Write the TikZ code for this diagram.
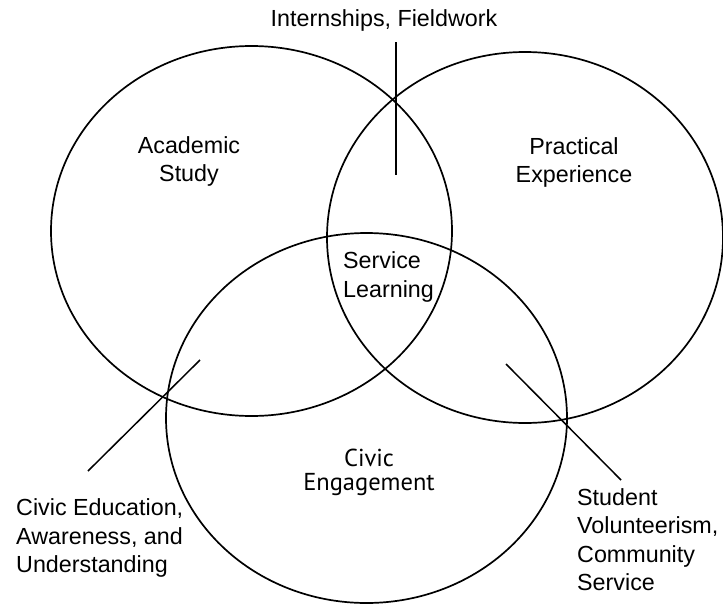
\documentclass[tikz,border=0pt]{standalone}
\usepackage{fontspec}
\usetikzlibrary{shapes.geometric}
\setmainfont{Liberation Sans}
\newfontfamily\civicfont{PT Sans}
\begin{document}
\begin{tikzpicture}[x=1pt,y=-1pt,
  ring/.style={draw=black,line width=1.7pt,ellipse,inner sep=0pt},
  leader/.style={draw=black,line width=1.5pt},
  label/.style={inner sep=0pt,font=\fontsize{23.3}{28.5}\selectfont},
  labelleft/.style={label,align=left},
  labelmid/.style={label,align=center}]
  \useasboundingbox (0,0) rectangle (723,605);

  % the three overlapping fields
  \node[ring,minimum width=401pt,minimum height=370pt] (study) at (251.5,231) {};
  \node[ring,minimum width=396pt,minimum height=371pt] (practice) at (525,237.5) {};
  \node[ring,minimum width=401pt,minimum height=370pt] (civic) at (366.5,418) {};

  % field names
  \node[labelmid] (tstudy) at (189,161.5) {Academic\\Study};
  \node[labelmid] (tpractice) at (574,162.5) {Practical\\Experience};
  \node[labelleft,anchor=west] (tservice) at (343,277) {Service\\Learning};
  \node[label,align=center,font=\civicfont\fontsize{24.5}{23.5}\selectfont] (tcivic) at (369,472.5) {Civic\\Engagement};

  % pairwise overlaps, with leader lines through the crossing points
  \node[label,anchor=base] (tintern) at (384,27) {Internships, Fieldwork};
  \node[labelleft,anchor=west] (tedu) at (16,538) {Civic Education,\\Awareness, and\\Understanding};
  \node[labelleft,anchor=west] (tvol) at (577,539.5) {Student\\Volunteerism,\\Community\\Service};

  \coordinate (internTop) at (396,42);
  \coordinate (internEnd) at (396,175);
  \coordinate (eduTop) at (200,360);
  \coordinate (eduEnd) at (88,471);
  \coordinate (volTop) at (506,364);
  \coordinate (volEnd) at (621,480);

  \draw[leader] (internTop) -- (internEnd);
  \draw[leader] (eduTop) -- (eduEnd);
  \draw[leader] (volTop) -- (volEnd);
\end{tikzpicture}
\end{document}
